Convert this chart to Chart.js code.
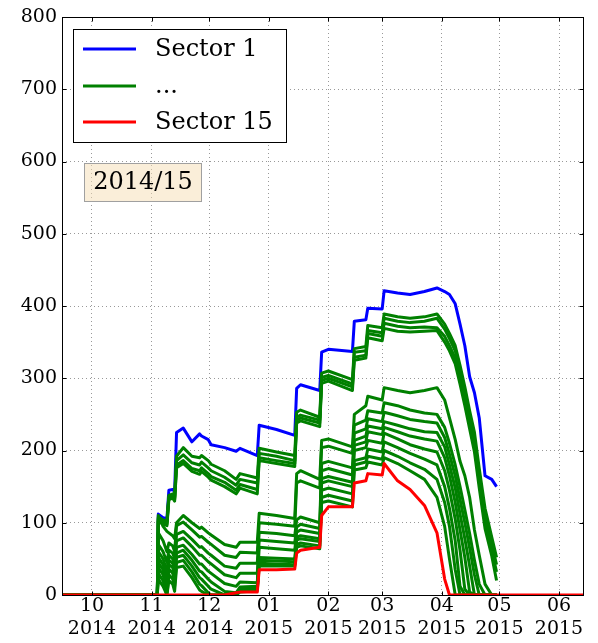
<!DOCTYPE html>
<html>
<head>
<meta charset="utf-8">
<script src="https://cdn.jsdelivr.net/npm/chart.js@4/dist/chart.umd.min.js"></script>
<style>
html, body { margin: 0; padding: 0; background: #fff; }
</style>
</head>
<body>
<canvas id="chart" width="598" height="643"></canvas>
<script>
// days counted from 1 Oct 2014
var days = [-16, 34, 34.5, 37, 39, 40, 42, 43, 44, 47.5, 52, 56, 57, 60.5, 62, 69, 75, 77, 86, 87, 96, 105.5,
    106.5, 108.5, 118.5, 119.5, 123, 135.5, 136.5, 142.5, 143.5, 151, 152, 159, 165.5, 173, 179.5, 183.5,
    186, 189, 191.5, 194, 196.5, 199, 201.5, 204.5, 208, 210.5, 256];

var sector1 = [0,0,112,107,106,145,146,143,225,231,212,223,220,215,208,204,199,203,193,235,229,221,286,291,283,336,340,337,379,381,397,396,421,418,416,420,425,420,416,403,375,345,302,280,245,165,160,150,null];
var sector2 = [0,0,108,104,102,138,140,136,192,204,192,190,193,186,181,172,160,168,162,203,198,193,253,256,246,307,310,298,341,344,373,370,389,385,383,385,389,375,362,345,318,288,255,225,175,120,80,52,null];
var sector3 = [0,0,106,102,100,136,138,134,186,194,183,180,184,176,172,163,152,160,155,196,192,186,246,249,242,301,304,292,336,338,366,363,383,379,377,379,383,368,355,338,310,280,246,215,165,110,70,42,null];
var sector4 = [0,0,104,100,98,134,136,132,180,186,175,172,176,168,164,156,145,153,146,190,186,182,242,245,238,297,300,288,329,332,362,358,376,372,370,371,370,358,345,328,300,270,238,206,156,100,62,32,null];
var sector5 = [0,0,102,98,96,132,134,130,176,182,171,167,171,163,159,150,140,148,140,186,182,178,238,241,233,293,296,283,325,328,356,352,369,365,364,365,366,350,338,320,292,262,230,198,148,92,54,20,null];
var sector6 = [0,0,110,95,88,86,82,78,100,110,100,92,94,86,83,70,66,73,73,113,110,106,168,172,160,214,216,205,250,262,275,270,287,283,280,283,287,270,245,215,185,165,135,90,55,15,0,0,null];
var sector7 = [0,0,86,75,60,72,68,60,96,101,90,80,81,73,70,55,52,59,58,100,98,95,155,158,148,204,206,196,235,242,255,252,266,262,256,252,250,232,210,180,150,118,85,48,15,0,0,0,null];
var sector8 = [0,0,70,60,45,62,58,50,84,88,77,66,67,58,55,40,37,44,44,87,85,82,104,108,100,182,185,176,224,230,244,240,253,248,243,240,238,218,195,165,132,100,65,28,0,0,0,0,null];
var sector9 = [0,0,60,50,32,55,50,42,75,79,67,55,55,46,43,28,24,30,30,76,74,72,94,98,92,172,175,166,214,220,234,230,240,235,230,226,225,205,180,148,112,78,40,0,0,0,0,0,null];
var sector10 = [0,0,52,42,22,48,44,35,66,69,56,43,43,33,30,16,12,18,17,66,64,62,87,90,85,161,164,156,207,212,226,222,232,226,220,216,213,190,165,128,90,52,4,0,0,0,0,0,null];
var sector11 = [0,0,45,35,12,42,38,28,58,62,48,33,32,22,18,5,3,11,12,52,51,50,80,82,78,155,158,150,200,204,214,210,224,216,208,202,198,172,145,105,62,8,0,0,0,0,0,0,null];
var sector12 = [0,0,38,28,5,36,30,20,52,55,40,24,22,12,8,0,0,8,10,48,47,46,76,78,74,145,148,140,186,190,202,198,212,204,196,188,180,150,120,75,12,0,0,0,0,0,0,0,null];
var sector13 = [0,0,30,20,0,28,22,12,45,48,32,15,13,3,0,0,0,6,8,44,43,42,70,72,68,135,138,130,180,184,192,188,200,192,183,174,160,128,95,35,0,0,0,0,0,0,0,0,null];
var sector14 = [0,0,22,12,0,20,15,5,38,40,24,7,5,0,0,0,0,4,6,40,40,40,66,68,64,128,130,122,173,176,184,180,190,182,172,160,135,95,50,0,0,0,0,0,0,0,0,0,null];
var sector15 = [0,0,0,0,0,0,0,0,0,0,0,0,0,0,0,0,3,4,4,35,35,36,58,62,66,110,122,122,155,158,168,166,182,158,146,124,86,22,0,0,0,0,0,0,0,0,0,0,0];

var monthDays = [0, 31, 61, 92, 123, 151, 182, 212, 243];
var monthLabels = ['10', '11', '12', '01', '02', '03', '04', '05', '06'];
var yearLabels = ['2014', '2014', '2014', '2015', '2015', '2015', '2015', '2015', '2015'];
var yTicks = [0, 100, 200, 300, 400, 500, 600, 700, 800];
var legendLabels = ['Sector 1', '...', 'Sector 15'];
var seasonLabel = '2014/15';

var BLUE = '#0000ff', GREEN = '#008000', RED = '#ff0000';
var FONT = 'DejaVu Serif';

var sectors = [sector1, sector2, sector3, sector4, sector5, sector6, sector7, sector8,
    sector9, sector10, sector11, sector12, sector13, sector14, sector15];

var datasets = sectors.map(function(vals, k){
    var color = k == 0 ? BLUE : (k == sectors.length - 1 ? RED : GREEN);
    return {
        data: days.map(function(d, i){ return {x: d, y: vals[i]}; }),
        borderColor: color,
        borderWidth: 3,
        borderJoinStyle: 'round',
        pointRadius: 0,
        tension: 0,
        fill: false,
        order: k == sectors.length - 1 ? 0 : (k == 0 ? 2 : 1)
    };
});

var decor = {
    id: 'decor',
    afterDatasetsDraw: function(chart){
        var a = chart.chartArea, ctx = chart.ctx;
        var L = Math.round(a.left) + 0.5, T = Math.round(a.top) + 0.5;
        var R = Math.round(a.right) - 0.5, B = Math.round(a.bottom) + 0.5;
        ctx.save();
        ctx.strokeStyle = '#000';
        ctx.lineWidth = 1;
        ctx.beginPath();
        // inward tick marks on all four sides
        monthDays.forEach(function(v){
            var x = Math.round(chart.scales.x.getPixelForValue(v)) + 0.5;
            ctx.moveTo(x, B); ctx.lineTo(x, B - 4);
            ctx.moveTo(x, T); ctx.lineTo(x, T + 4);
        });
        yTicks.forEach(function(v){
            var y = Math.round(chart.scales.y.getPixelForValue(v)) + 0.5;
            ctx.moveTo(L, y); ctx.lineTo(L + 4, y);
            ctx.moveTo(R, y); ctx.lineTo(R - 4, y);
        });
        ctx.stroke();
        ctx.strokeRect(L, T, R - L, B - T);
        ctx.restore();
    },
    afterDraw: function(chart){
        var ctx = chart.ctx;
        ctx.save();
        // legend box
        ctx.fillStyle = '#fff';
        ctx.fillRect(73, 29, 213, 113);
        ctx.strokeStyle = '#000';
        ctx.lineWidth = 1;
        ctx.strokeRect(73.5, 29.5, 213, 113);
        var colors = [BLUE, GREEN, RED];
        var rows = [49, 86, 122];
        ctx.font = '24px "' + FONT + '"';
        ctx.textBaseline = 'middle';
        for (var i = 0; i < 3; i++) {
            ctx.strokeStyle = colors[i];
            ctx.lineWidth = 3;
            ctx.beginPath();
            ctx.moveTo(83, rows[i]);
            ctx.lineTo(136, rows[i]);
            ctx.stroke();
            ctx.fillStyle = '#000';
            ctx.fillText(legendLabels[i], 155, rows[i] + 1);
        }
        // season box
        ctx.fillStyle = 'rgba(245,222,179,0.5)';
        ctx.fillRect(84, 163, 117, 38);
        ctx.strokeStyle = '#a0a0a0';
        ctx.lineWidth = 1;
        ctx.strokeRect(84.5, 163.5, 117, 38);
        ctx.fillStyle = '#000';
        ctx.textAlign = 'center';
        ctx.fillText(seasonLabel, 143, 183);
        ctx.restore();
    }
};

var chart = new Chart('chart', {
    type: 'line',
    data: { datasets: datasets },
    options: {
        responsive: false,
        animation: false,
        layout: { padding: { top: 17, right: 14, left: 0, bottom: 0 } },
        plugins: { legend: { display: false }, tooltip: { enabled: false } },
        scales: {
            x: {
                type: 'linear',
                min: -15.6,
                max: 256,
                afterBuildTicks: function(s){
                    s.ticks = monthDays.map(function(v){ return {value: v}; });
                },
                afterFit: function(s){ s.height = 48; },
                ticks: {
                    autoSkip: false,
                    maxRotation: 0,
                    padding: 0,
                    color: '#000',
                    font: { family: FONT, size: 19, lineHeight: 1.2 },
                    callback: function(v){
                        var i = monthDays.indexOf(v);
                        return [monthLabels[i], yearLabels[i]];
                    }
                },
                grid: { color: '#999', lineWidth: 1, drawTicks: false },
                border: { display: false, dash: [1, 3] }
            },
            y: {
                min: 0,
                max: 800,
                afterBuildTicks: function(s){
                    s.ticks = yTicks.map(function(v){ return {value: v}; });
                },
                afterFit: function(s){ s.width = 62; },
                ticks: {
                    padding: 5,
                    color: '#000',
                    font: { family: FONT, size: 19 }
                },
                grid: { color: '#999', lineWidth: 1, drawTicks: false },
                border: { display: false, dash: [1, 3] }
            }
        }
    },
    plugins: [decor]
});
</script>
</body>
</html>
